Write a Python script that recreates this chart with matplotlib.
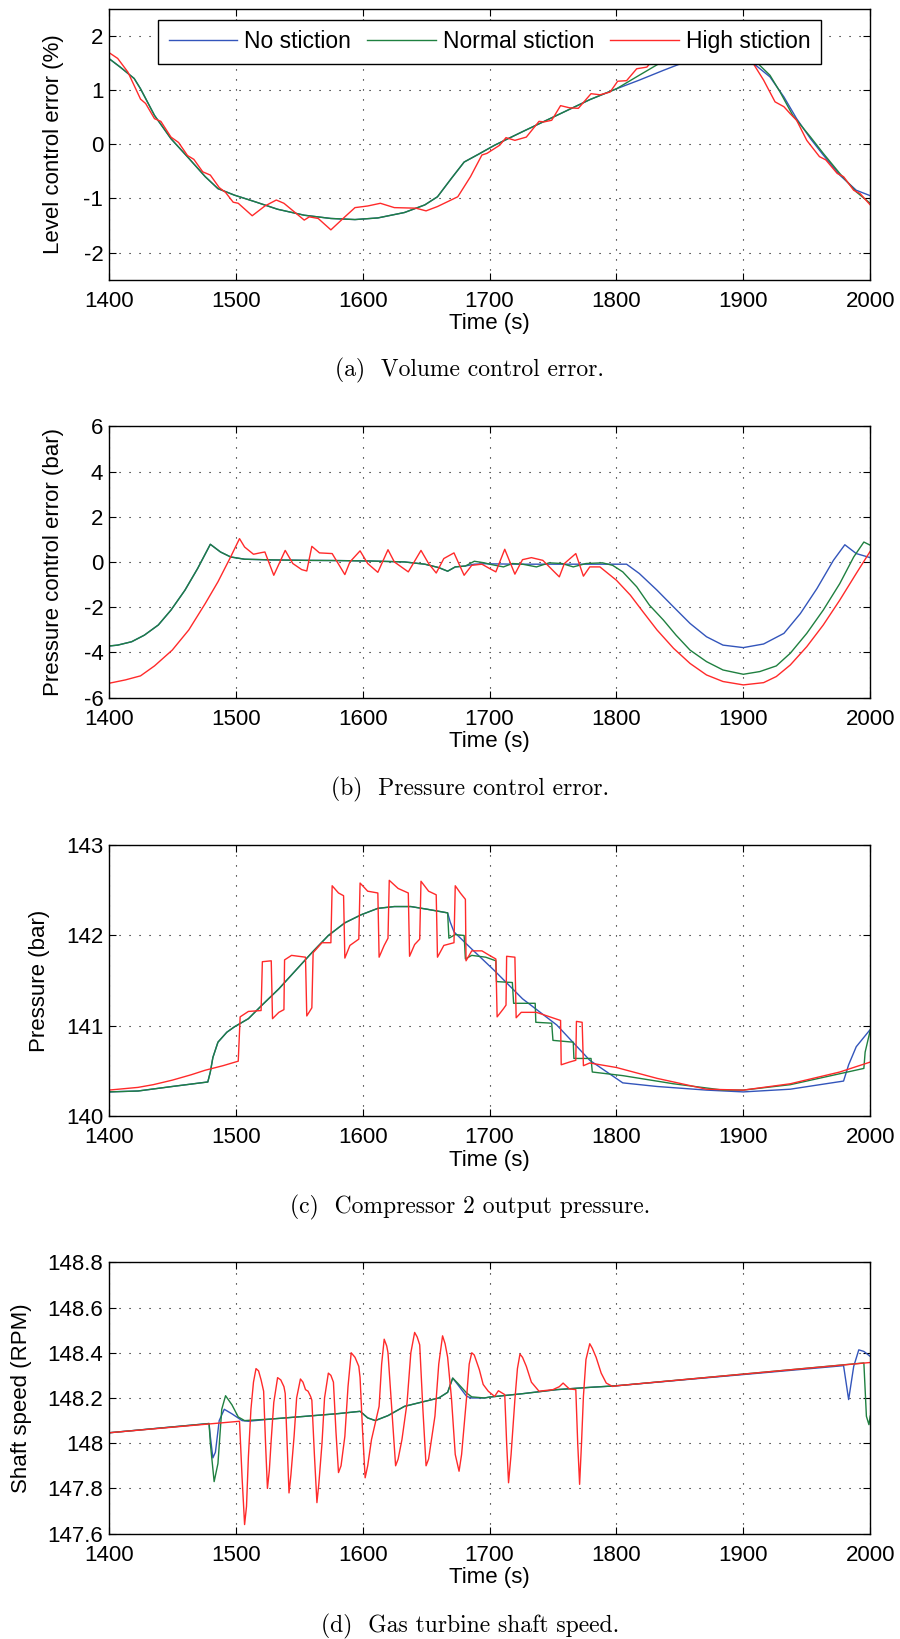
import numpy as np
import matplotlib
matplotlib.use('Agg')
import matplotlib.pyplot as plt

plt.rcParams['font.family'] = ['Liberation Sans', 'DejaVu Sans']
plt.rcParams['font.size'] = 16
plt.rcParams['axes.unicode_minus'] = False

BLUE = '#3355bb'
GREEN = '#1f8040'
RED = '#ff2a2a'

XTICKS = [1400, 1500, 1600, 1700, 1800, 1900, 2000]
LEGEND = ['No stiction', 'Normal stiction', 'High stiction']

# ---- (a) volume control error ----
a_smooth_t = [1400, 1409, 1420, 1425, 1436, 1449, 1463, 1476, 1486, 1499,
              1515, 1533, 1554, 1575, 1594, 1612, 1633, 1649, 1659, 1670,
              1680, 1691, 1704, 1726, 1753, 1779, 1800]
a_smooth_y = [1.58, 1.42, 1.21, 1.02, 0.53, 0.10, -0.26, -0.60, -0.82, -0.94,
              -1.06, -1.20, -1.31, -1.37, -1.39, -1.36, -1.26, -1.12, -0.97, -0.63,
              -0.33, -0.19, -0.02, 0.23, 0.53, 0.82, 1.02]
a_blue_t = [1818, 1837, 1858, 1880, 1900, 1910, 1921, 1932, 1942, 1953,
            1963, 1976, 1989, 2000]
a_blue_y = [1.18, 1.36, 1.55, 1.62, 1.60, 1.45, 1.24, 0.87, 0.47, 0.10,
            -0.20, -0.57, -0.85, -0.95]
a_green_t = [1818, 1842, 1860, 1878, 1895, 1905, 1910, 1921, 1929, 1939,
             1953, 1963, 1976, 1989, 2000]
a_green_y = [1.27, 1.60, 1.78, 1.85, 1.75, 1.60, 1.52, 1.27, 0.96, 0.53,
             0.13, -0.17, -0.54, -0.88, -1.09]
a_red_t = [1400, 1407, 1415, 1425, 1429, 1436, 1441, 1449, 1455, 1462,
           1467, 1474, 1480, 1487, 1492, 1498, 1502, 1513, 1523, 1532,
           1538, 1554, 1558, 1565, 1575, 1586, 1594, 1604, 1614, 1625,
           1642, 1650, 1659, 1675, 1685, 1694, 1698, 1704, 1708, 1713,
           1720, 1729, 1739, 1743, 1749, 1756, 1763, 1770, 1780, 1787,
           1795, 1801, 1808, 1816, 1824, 1832, 1850, 1870, 1890, 1904,
           1908, 1916, 1925, 1932, 1937, 1942, 1950, 1960, 1965, 1974,
           1979, 1987, 1992, 2000]
a_red_y = [1.69, 1.58, 1.33, 0.83, 0.75, 0.47, 0.42, 0.13, 0.03, -0.21,
           -0.28, -0.51, -0.57, -0.80, -0.89, -1.07, -1.09, -1.32, -1.14, -1.03,
           -1.09, -1.40, -1.34, -1.37, -1.58, -1.34, -1.17, -1.14, -1.09, -1.17,
           -1.18, -1.23, -1.15, -0.97, -0.60, -0.20, -0.17, -0.08, -0.02, 0.12,
           0.07, 0.13, 0.42, 0.41, 0.44, 0.71, 0.67, 0.66, 0.93, 0.91,
           0.96, 1.16, 1.17, 1.39, 1.42, 1.64, 1.95, 2.05, 1.95, 1.60,
           1.48, 1.18, 0.78, 0.69, 0.56, 0.44, 0.07, -0.23, -0.29, -0.54,
           -0.60, -0.85, -0.91, -1.12]

# ---- (b) pressure control error ----
b_common_t = [1400, 1407, 1418, 1428, 1439, 1449, 1460, 1470, 1480, 1488,
              1496, 1507, 1528, 1555, 1581, 1607, 1633, 1649, 1660, 1667,
              1673, 1681]
b_common_y = [-3.72, -3.68, -3.53, -3.24, -2.79, -2.13, -1.25, -0.29, 0.78, 0.44,
              0.22, 0.12, 0.09, 0.07, 0.06, 0.04, 0.0, -0.10, -0.25, -0.41,
              -0.22, -0.18]
b_blue_t = [1688, 1696, 1720, 1760, 1808, 1818, 1832, 1845, 1858, 1871,
            1884, 1900, 1916, 1932, 1945, 1958, 1971, 1980, 1989, 2000]
b_blue_y = [-0.10, -0.08, -0.10, -0.10, -0.10, -0.51, -1.25, -1.99, -2.72, -3.31,
            -3.68, -3.79, -3.63, -3.16, -2.28, -1.18, 0.07, 0.76, 0.37, 0.19]
b_green_t = [1688, 1696, 1700, 1711, 1718, 1726, 1737, 1747, 1757, 1766,
             1776, 1789, 1797, 1805, 1816, 1826, 1837, 1847, 1858, 1871,
             1884, 1900, 1913, 1926, 1937, 1950, 1963, 1976, 1987, 1995,
             2000]
b_green_y = [0.03, -0.04, -0.10, -0.22, -0.07, -0.10, -0.22, -0.04, -0.07, -0.22,
             -0.07, -0.04, -0.15, -0.44, -1.10, -1.91, -2.57, -3.24, -3.90, -4.41,
             -4.78, -4.97, -4.85, -4.60, -4.04, -3.16, -2.13, -0.96, 0.22, 0.88,
             0.74]
b_red_t = [1400, 1413, 1425, 1436, 1450, 1463, 1476, 1486, 1496, 1503,
           1507, 1514, 1520, 1523, 1530, 1539, 1545, 1552, 1556, 1560,
           1566, 1576, 1586, 1590, 1598, 1604, 1612, 1620, 1625, 1636,
           1646, 1652, 1658, 1664, 1672, 1680, 1686, 1694, 1700, 1705,
           1712, 1720, 1726, 1733, 1742, 1755, 1759, 1768, 1774, 1779,
           1787, 1800, 1811, 1821, 1832, 1845, 1858, 1871, 1884, 1900,
           1916, 1926, 1937, 1950, 1963, 1976, 1989, 2000]
b_red_y = [-5.37, -5.22, -5.04, -4.60, -3.90, -3.01, -1.84, -0.88, 0.22, 1.03,
           0.66, 0.34, 0.41, 0.44, -0.59, 0.51, -0.07, -0.34, -0.40, 0.69,
           0.40, 0.37, -0.56, 0.0, 0.49, -0.07, -0.46, 0.54, 0.0, -0.44,
           0.51, -0.07, -0.49, 0.15, 0.40, -0.59, -0.15, -0.10, -0.29, -0.44,
           0.56, -0.54, 0.10, 0.19, 0.07, -0.66, -0.07, 0.37, -0.63, -0.22,
           -0.22, -0.81, -1.47, -2.21, -3.01, -3.82, -4.49, -5.00, -5.29, -5.44,
           -5.34, -5.07, -4.56, -3.75, -2.79, -1.69, -0.51, 0.47]

# ---- (c) compressor 2 output pressure ----
c_common_t = [1400, 1423, 1450, 1478, 1480, 1482, 1486, 1493, 1499, 1510,
              1520, 1534, 1547, 1560, 1573, 1586, 1599, 1612, 1625, 1638,
              1651, 1667]
c_common_y = [140.27, 140.28, 140.33, 140.38, 140.49, 140.65, 140.82, 140.93, 140.99, 141.08,
              141.22, 141.41, 141.61, 141.81, 142.00, 142.14, 142.23, 142.30, 142.32, 142.32,
              142.29, 142.25]
c_blue_t = [1669, 1672, 1686, 1704, 1726, 1753, 1779, 1805, 1832, 1871,
            1900, 1937, 1979, 1983, 1989, 2000]
c_blue_y = [142.15, 142.04, 141.85, 141.61, 141.30, 141.01, 140.62, 140.37, 140.33, 140.29,
            140.27, 140.30, 140.39, 140.57, 140.77, 140.96]
c_green_t = [1668, 1673, 1680, 1681, 1686, 1697, 1705, 1705.5, 1718, 1719,
             1736, 1736.5, 1749, 1750, 1766, 1766.5, 1780, 1781, 1805, 1845,
             1884, 1900, 1937, 1995, 1996, 2000]
c_green_y = [141.97, 142.01, 142.00, 141.74, 141.78, 141.76, 141.72, 141.49, 141.48, 141.25,
             141.25, 141.04, 141.03, 140.84, 140.82, 140.64, 140.64, 140.49, 140.45, 140.36,
             140.29, 140.29, 140.35, 140.53, 140.71, 140.95]
c_red_t = [1400, 1423, 1435, 1450, 1465, 1476, 1490, 1502, 1503.5, 1510,
           1520, 1521, 1528, 1529, 1534, 1538, 1538.5, 1544, 1555, 1556,
           1560, 1561, 1568, 1575, 1576, 1581, 1585, 1586, 1590, 1597,
           1598, 1604, 1612, 1613, 1617, 1620, 1621, 1628, 1636, 1637,
           1641, 1645, 1646, 1652, 1658, 1659, 1664, 1672, 1673, 1677,
           1681, 1681.5, 1686, 1694, 1700, 1705, 1706, 1711, 1713, 1713.5,
           1720, 1721, 1725, 1737, 1756, 1756.5, 1763, 1768, 1768.5, 1773,
           1774, 1779, 1800, 1832, 1871, 1900, 1937, 1976, 2000]
c_red_y = [140.29, 140.32, 140.35, 140.40, 140.46, 140.51, 140.56, 140.61, 141.10, 141.16,
           141.17, 141.71, 141.72, 141.08, 141.15, 141.18, 141.73, 141.78, 141.76, 141.11,
           141.20, 141.81, 141.92, 141.92, 142.55, 142.47, 142.44, 141.75, 141.89, 141.96,
           142.58, 142.49, 142.47, 141.76, 141.89, 141.97, 142.61, 142.52, 142.47, 141.77,
           141.90, 141.96, 142.60, 142.49, 142.45, 141.76, 141.89, 141.92, 142.55, 142.47,
           142.40, 141.72, 141.83, 141.83, 141.78, 141.74, 141.10, 141.19, 141.23, 141.77,
           141.76, 141.09, 141.15, 141.15, 141.06, 140.57, 140.60, 140.62, 141.05, 141.04,
           140.56, 140.59, 140.54, 140.42, 140.30, 140.29, 140.36, 140.49, 140.60]

# ---- (d) gas turbine shaft speed ----
d_blue_t = [1400, 1479, 1480, 1482, 1484, 1487, 1491, 1497, 1505, 1510,
            1528, 1555, 1581, 1598, 1604, 1610, 1620, 1633, 1646, 1660,
            1667, 1671, 1675, 1682, 1686, 1696, 1700, 1726, 1753, 1779,
            1800, 1979, 1983, 1987, 1991, 1995, 2000]
d_blue_y = [148.046, 148.087, 148.03, 147.935, 147.96, 148.10, 148.15, 148.13, 148.10, 148.097,
            148.107, 148.119, 148.131, 148.141, 148.112, 148.10, 148.122, 148.163, 148.181, 148.20,
            148.225, 148.288, 148.259, 148.207, 148.20, 148.20, 148.204, 148.219, 148.237, 148.247,
            148.254, 148.343, 148.193, 148.34, 148.413, 148.406, 148.384]
d_green_t = [1400, 1479, 1480, 1483, 1486, 1489, 1492, 1497, 1502, 1507,
             1528, 1555, 1581, 1598, 1604, 1610, 1620, 1633, 1646, 1660,
             1667, 1671, 1675, 1682, 1686, 1696, 1700, 1726, 1753, 1779,
             1800, 1995, 1997, 1999, 2000]
d_green_y = [148.046, 148.087, 148.00, 147.83, 147.91, 148.15, 148.21, 148.17, 148.116, 148.10,
             148.107, 148.119, 148.131, 148.141, 148.112, 148.10, 148.122, 148.163, 148.181, 148.20,
             148.225, 148.288, 148.265, 148.222, 148.205, 148.20, 148.204, 148.219, 148.237, 148.247,
             148.254, 148.355, 148.119, 148.082, 148.12]
d_red_t = [1400, 1503, 1505, 1507, 1508.5, 1510, 1512, 1514, 1516, 1518,
           1520, 1522, 1523.5, 1525, 1526.5, 1528, 1530, 1533, 1535.5, 1538,
           1539, 1540.5, 1542, 1543.5, 1546, 1548, 1551, 1553, 1555, 1557,
           1559, 1560, 1562, 1564, 1565.5, 1568, 1570, 1573, 1575, 1577,
           1579, 1581, 1583, 1586, 1588.5, 1591, 1594, 1597, 1598, 1600,
           1602, 1604, 1607, 1613, 1615, 1617, 1619, 1620, 1623, 1626,
           1628, 1631, 1635, 1638, 1641, 1643, 1645, 1647.5, 1650, 1652,
           1657, 1660, 1663, 1665, 1667, 1670, 1673, 1676, 1678, 1682,
           1684, 1686, 1688, 1692, 1695, 1699, 1704, 1707, 1712, 1713.5,
           1715, 1717, 1720, 1722, 1724, 1726, 1729, 1733, 1739, 1750,
           1755, 1758, 1761, 1763, 1768, 1769.5, 1771, 1772.5, 1774, 1776,
           1779, 1781, 1784, 1788, 1792, 1797, 1800, 2000]
d_red_y = [148.046, 148.097, 147.85, 147.64, 147.72, 147.94, 148.15, 148.27, 148.33, 148.32,
           148.28, 148.23, 148.00, 147.80, 147.88, 148.016, 148.18, 148.29, 148.28, 148.25,
           148.22, 148.00, 147.78, 147.86, 148.03, 148.20, 148.284, 148.27, 148.237, 148.23,
           148.207, 148.19, 147.95, 147.737, 147.82, 148.00, 148.20, 148.31, 148.30, 148.27,
           148.05, 147.87, 147.90, 148.03, 148.25, 148.40, 148.38, 148.34, 148.29, 148.05,
           147.847, 147.90, 148.016, 148.163, 148.35, 148.46, 148.43, 148.40, 148.15, 147.90,
           147.93, 148.016, 148.178, 148.40, 148.49, 148.47, 148.435, 148.15, 147.90, 147.93,
           148.12, 148.35, 148.475, 148.44, 148.38, 148.20, 147.95, 147.876, 147.95, 148.207,
           148.35, 148.40, 148.39, 148.325, 148.26, 148.23, 148.207, 148.232, 148.215, 148.00,
           147.825, 147.95, 148.193, 148.33, 148.394, 148.38, 148.34, 148.27, 148.23, 148.237,
           148.25, 148.266, 148.25, 148.24, 148.237, 148.00, 147.818, 148.00, 148.207, 148.37,
           148.44, 148.42, 148.38, 148.31, 148.266, 148.251, 148.254, 148.357]

fig = plt.figure(figsize=(9, 16.39), dpi=100)

left, width, height = 0.1209, 0.846, 0.1655
bottoms = [0.8293, 0.5744, 0.3189, 0.0643]

panels = [
    dict(ylabel='Level control error (%)', ylim=(-2.5, 2.5), yticks=[-2, -1, 0, 1, 2],
         yticklabels=['-2', '-1', '0', '1', '2'], labx=-0.059,
         caption='(a)  Volume control error.',
         blue=(a_smooth_t + a_blue_t, a_smooth_y + a_blue_y),
         green=(a_smooth_t + a_green_t, a_smooth_y + a_green_y),
         red=(a_red_t, a_red_y)),
    dict(ylabel='Pressure control error (bar)', ylim=(-6, 6), yticks=[-6, -4, -2, 0, 2, 4, 6],
         yticklabels=['-6', '-4', '-2', '0', '2', '4', '6'], labx=-0.059,
         caption='(b)  Pressure control error.',
         blue=(b_common_t + b_blue_t, b_common_y + b_blue_y),
         green=(b_common_t + b_green_t, b_common_y + b_green_y),
         red=(b_red_t, b_red_y)),
    dict(ylabel='Pressure (bar)', ylim=(140, 143), yticks=[140, 141, 142, 143],
         yticklabels=['140', '141', '142', '143'], labx=-0.077,
         caption='(c)  Compressor 2 output pressure.',
         blue=(c_common_t + c_blue_t, c_common_y + c_blue_y),
         green=(c_common_t + c_green_t, c_common_y + c_green_y),
         red=(c_red_t, c_red_y)),
    dict(ylabel='Shaft speed (RPM)', ylim=(147.6, 148.8),
         yticks=[147.6, 147.8, 148.0, 148.2, 148.4, 148.6, 148.8],
         yticklabels=['147.6', '147.8', '148', '148.2', '148.4', '148.6', '148.8'], labx=-0.101,
         caption='(d)  Gas turbine shaft speed.',
         blue=(d_blue_t, d_blue_y),
         green=(d_green_t, d_green_y),
         red=(d_red_t, d_red_y)),
]

cap_y = [1 - 370 / 1639, 1 - 789 / 1639, 1 - 1207 / 1639, 1 - 1626 / 1639]

for i, p in enumerate(panels):
    ax = fig.add_axes([left, bottoms[i], width, height])
    ax.plot(p['blue'][0], p['blue'][1], color=BLUE, lw=1.0, label=LEGEND[0])
    ax.plot(p['green'][0], p['green'][1], color=GREEN, lw=1.0, label=LEGEND[1])
    ax.plot(p['red'][0], p['red'][1], color=RED, lw=1.0, label=LEGEND[2])
    ax.set_xlim(1400, 2000)
    ax.set_ylim(*p['ylim'])
    ax.set_xticks(XTICKS)
    ax.set_xticklabels([str(x) for x in XTICKS])
    ax.set_yticks(p['yticks'])
    ax.set_yticklabels(p['yticklabels'])
    ax.tick_params(direction='in', top=True, right=True, length=5, width=0.8, labelsize=16)
    ax.tick_params(axis='x', pad=8)
    ax.tick_params(axis='y', pad=4)
    ax.grid(True, color='k', linestyle=(0, (1, 8)), linewidth=0.8)
    for s in ax.spines.values():
        s.set_linewidth(1.0)
    ax.set_xlabel('Time (s)', fontsize=16, labelpad=1)
    ax.set_ylabel(p['ylabel'], fontsize=16)
    ax.yaxis.set_label_coords(p['labx'], 0.5)
    if i == 0:
        leg = ax.legend(loc='upper center', bbox_to_anchor=(0.5, 0.958), ncol=3,
                        fontsize=16.5, frameon=True, fancybox=False, framealpha=1,
                        edgecolor='k', handlelength=3.0, handletextpad=0.3,
                        columnspacing=0.7, borderpad=0.45, borderaxespad=0)
        leg.get_frame().set_linewidth(1.0)
    fig.text(0.522, cap_y[i], p['caption'], ha='center', va='center',
             fontsize=17, family='cmr10')

fig.savefig('out.png', dpi=100)
